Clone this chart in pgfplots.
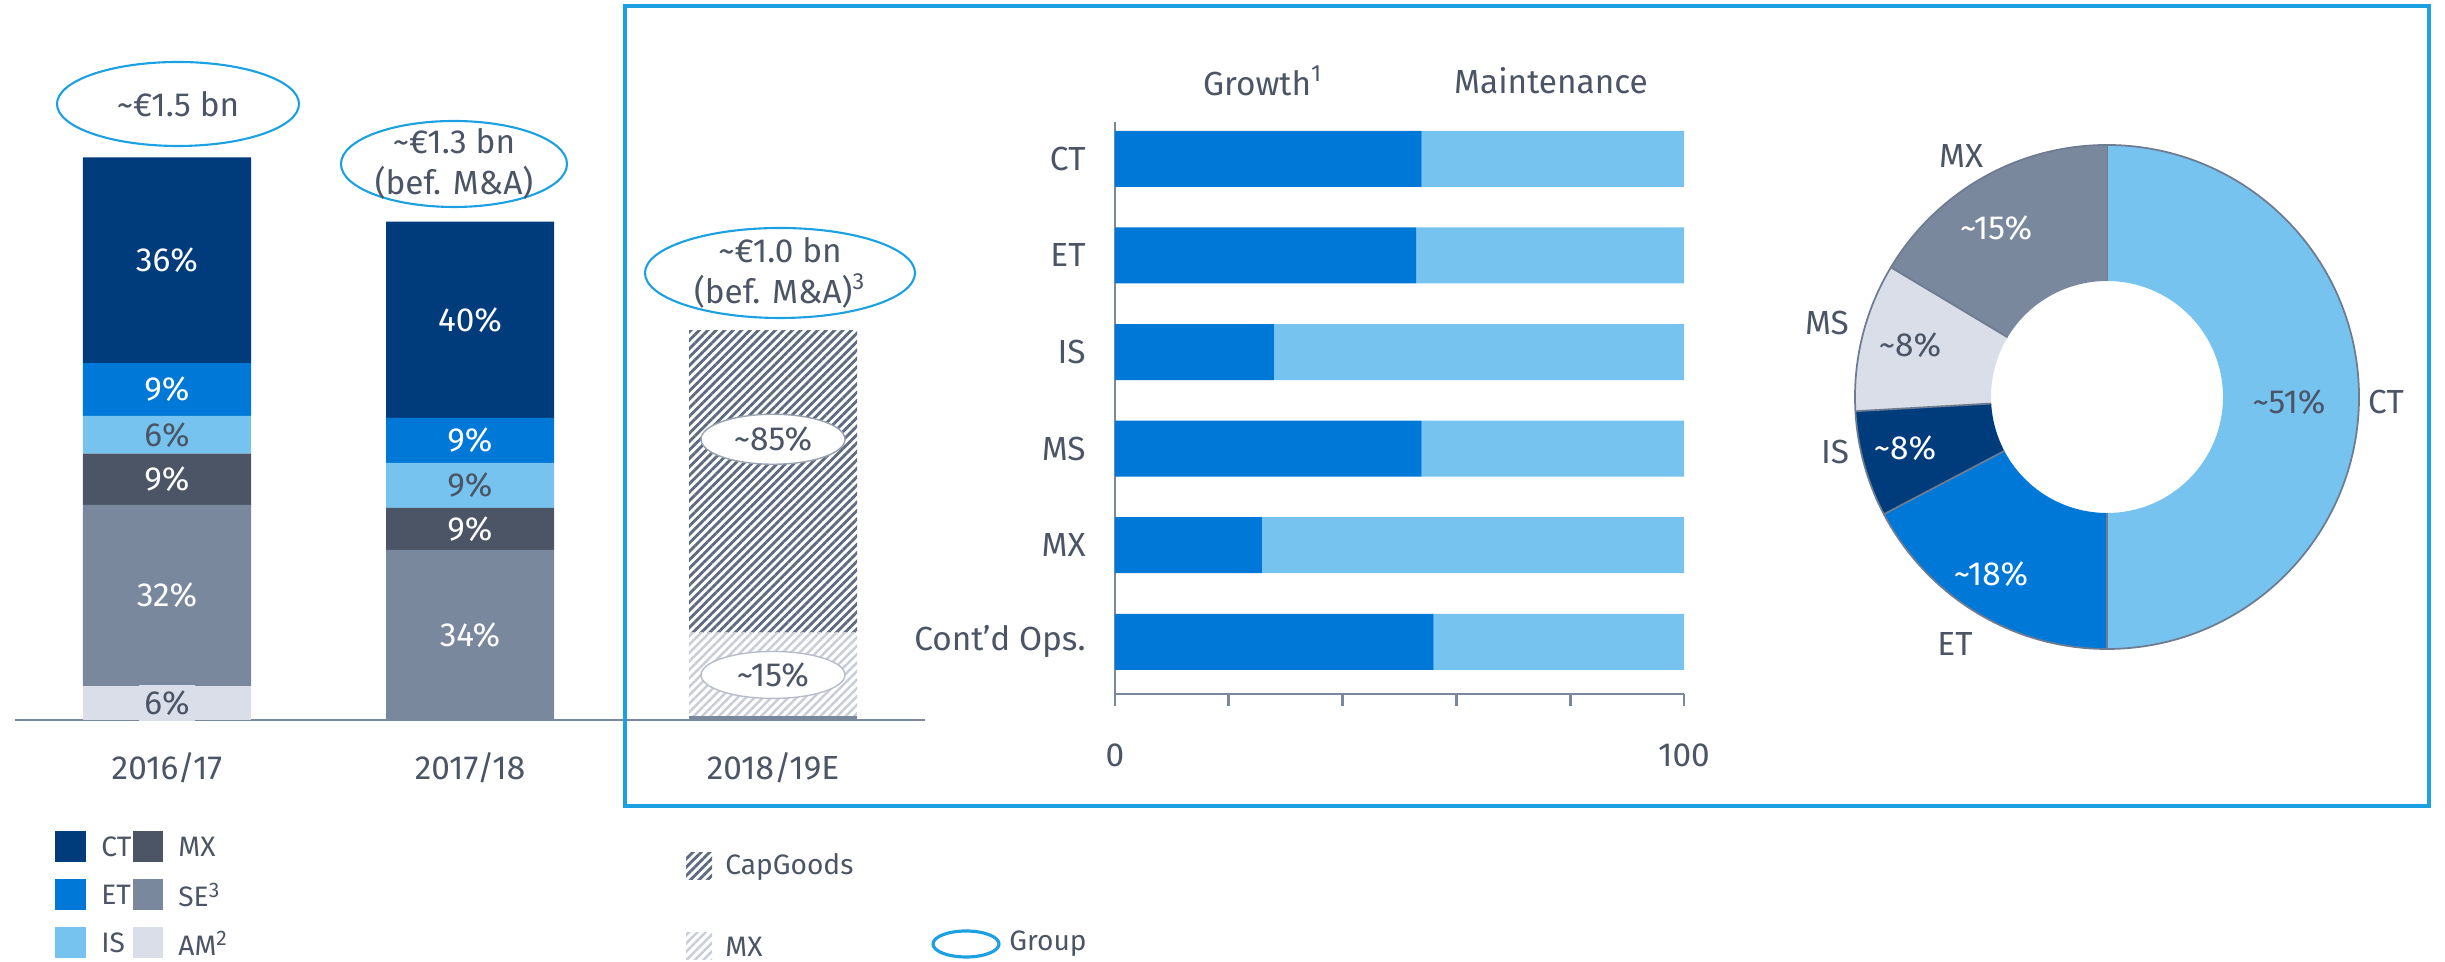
\documentclass[border=0pt]{standalone}
\usepackage{pgfplots}
\pgfplotsset{compat=1.18}
\usepackage{pgfplotstable}
\usepackage{fontspec}
\setmainfont{Fira Sans}
\usetikzlibrary{patterns.meta}

\definecolor{ct}{HTML}{003B7C}
\definecolor{et}{HTML}{0078D7}
\definecolor{is}{HTML}{75C3EE}
\definecolor{mx}{HTML}{4B5565}
\definecolor{se}{HTML}{7A889E}
\definecolor{am}{HTML}{DADEE8}
\definecolor{txt}{HTML}{4B5565}
\definecolor{frame}{HTML}{1BA1E2}
\definecolor{hatchd}{HTML}{5E6A7E}
\definecolor{hatchl}{HTML}{C8CDD8}
\definecolor{rim}{HTML}{6E7C92}

\newcommand{\lbl}{\fontsize{9.5}{11.5}\selectfont}
\newcommand{\leg}{\fontsize{8}{9.5}\selectfont}
\newcommand{\tld}{\textasciitilde}

\pgfplotsset{leftgeom/.style={
  at={(0.155cm,2.42cm)}, anchor=south west,
  scale only axis, x=3.03cm, y=3.753cm,
  xmin=-0.5, xmax=2.5, ymin=0, ymax=1.6, clip=false,
}}

% capex by segment, EUR bn (stack order bottom to top)
\pgfplotstableread{
x  base   mxh    cap    am     se     mx     is     et     ct
0  0      0      0      0.091  0.482  0.137  0.100  0.141  0.548
1  0      0      0      0      0.453  0.112  0.120  0.120  0.523
2  0.011  0.222  0.806  0      0      0      0      0      0
}\capex

% growth vs maintenance, percent
\pgfplotstableread{
y  growth  maint
5  53.9    46.1
4  52.9    47.1
3  27.9    72.1
2  53.9    46.1
1  25.8    74.2
0  56.0    44.0
}\split

% 2018/19E mix, percent (CT, ET, IS, MS, MX clockwise from top)
\pgfplotstableread{
seg share
CT  50.0
ET  17.3
IS  6.8
MS  9.5
MX  16.4
}\mix

\begin{document}
\begin{tikzpicture}[font=\lbl, text=txt]
\useasboundingbox (0,0) rectangle (24.45,9.62);

% ---- left: stacked bars ----
\begin{axis}[
  leftgeom,
  ybar stacked, bar width=1.68cm,
  axis x line=bottom, axis y line=none,
  axis line style={draw=se, line width=0.8pt, -},
  xtick={0,1,2}, xticklabels={2016/17,2017/18,2018/19E},
  major tick length=0pt,
  xticklabel style={text=txt, font=\lbl, yshift=-0.2cm},
]
\addplot[fill=se, draw=none] table[x=x, y=base] {\capex};
\addplot[draw=none, pattern={Lines[angle=45, distance=1.7pt, line width=0.7pt]}, pattern color=hatchl] table[x=x, y=mxh] {\capex};
\addplot[draw=none, pattern={Lines[angle=45, distance=1.7pt, line width=0.8pt]}, pattern color=hatchd] table[x=x, y=cap] {\capex};
\addplot[fill=am, draw=none] table[x=x, y=am] {\capex};
\addplot[fill=se, draw=none] table[x=x, y=se] {\capex};
\addplot[fill=mx, draw=none] table[x=x, y=mx] {\capex};
\addplot[fill=is, draw=none] table[x=x, y=is] {\capex};
\addplot[fill=et, draw=none] table[x=x, y=et] {\capex};
\addplot[fill=ct, draw=none] table[x=x, y=ct] {\capex};
\end{axis}

% segment labels, same geometry as the bars
\begin{axis}[leftgeom, hide axis]
\node[white] at (axis cs:0,1.225) {36\%};
\node[white] at (axis cs:0,0.8805) {9\%};
\node at (axis cs:0,0.760) {6\%};
\node[white] at (axis cs:0,0.6415) {9\%};
\node[white] at (axis cs:0,0.332) {32\%};
\node[fill=am, inner sep=1.5pt] at (axis cs:0,0.0455) {6\%};

\node[white] at (axis cs:1,1.0665) {40\%};
\node[white] at (axis cs:1,0.745) {9\%};
\node at (axis cs:1,0.625) {9\%};
\node[white] at (axis cs:1,0.509) {9\%};
\node[white] at (axis cs:1,0.2265) {34\%};

\draw[rim!70, line width=0.4pt, fill=white] (axis cs:2,0.748) ellipse [x radius=0.72cm, y radius=0.25cm];
\node at (axis cs:2,0.748) {\tld85\%};
\draw[rim!50, line width=0.4pt, fill=white] (axis cs:2,0.120) ellipse [x radius=0.72cm, y radius=0.235cm];
\node at (axis cs:2,0.120) {\tld15\%};
\end{axis}

% group totals
\draw[frame, line width=0.6pt] (1.78,8.58) ellipse [x radius=1.21, y radius=0.42];
\node at (1.78,8.58) {\tld€1.5 bn};
\draw[frame, line width=0.6pt] (4.54,7.98) ellipse [x radius=1.13, y radius=0.43];
\node[align=center, inner sep=0pt] at (4.54,7.98) {\tld€1.3 bn\\(bef. M\&A)};
\draw[frame, line width=0.6pt] (7.80,6.89) ellipse [x radius=1.35, y radius=0.45];
\node[align=center, inner sep=0pt] at (7.80,6.89) {\tld€1.0 bn\\(bef. M\&A)\textsuperscript{3}};

% frame round the 2018/19E part
\draw[frame, line width=0.9pt] (6.25,1.56) rectangle (24.29,9.56);

% ---- middle: growth vs maintenance ----
\begin{axis}[
  at={(11.15cm,2.68cm)}, anchor=south west,
  scale only axis, x=0.0569cm, y=0.966cm,
  xmin=0, xmax=100, ymin=-0.54, ymax=5.38,
  xbar stacked, bar width=0.56cm,
  axis x line=bottom, axis y line=left,
  axis line style={draw=se, line width=0.8pt, -},
  xtick={0,20,...,100}, xticklabels={0,,,,,100},
  tick align=outside, major tick length=0.12cm,
  xtick style={draw=se, line width=0.8pt},
  ytick={0,...,5}, yticklabels={Cont’d Ops.,MX,MS,IS,ET,CT},
  ytick style={draw=none},
  xticklabel style={text=txt, font=\lbl, yshift=-0.25cm},
  yticklabel style={text=txt, font=\lbl, xshift=-0.05cm},
  clip=false,
]
\addplot[fill=et, draw=none] table[x=growth, y=y] {\split};
\addplot[fill=is, draw=none] table[x=maint, y=y] {\split};
\end{axis}
\node at (12.63,8.81) {Growth\textsuperscript{1}};
\node at (15.51,8.81) {Maintenance};

% ---- right: donut ----
\begin{axis}[
  at={(21.07cm,5.65cm)}, anchor=center,
  scale only axis, x=1cm, y=1cm,
  xmin=-2.6, xmax=2.6, ymin=-2.6, ymax=2.6,
  hide axis, clip=false,
]
\pgfplotsextra{
  \gdef\acc{90}
  \foreach \i/\c in {0/is,1/et,2/ct,3/am,4/se} {
    \pgfplotstablegetelem{\i}{share}\of\mix
    \pgfmathsetmacro{\a}{\acc}
    \pgfmathsetmacro{\b}{\acc-3.6*\pgfplotsretval}
    \fill[\c] (axis cs:{2.52*cos(\a)},{2.52*sin(\a)}) arc[start angle=\a, end angle=\b, radius=2.52cm]
      -- (axis cs:{1.16*cos(\b)},{1.16*sin(\b)}) arc[start angle=\b, end angle=\a, radius=1.16cm] -- cycle;
    \draw[rim, line width=0.5pt] (axis cs:{1.16*cos(\a)},{1.16*sin(\a)}) -- (axis cs:{2.52*cos(\a)},{2.52*sin(\a)});
    \xdef\acc{\b}
  }
  \draw[rim, line width=0.5pt] (axis cs:0,0) circle [radius=2.52cm];
}
\end{axis}
\node at (19.61,8.06) {MX};
\node[white] at (19.96,7.34) {\tld15\%};
\node at (18.27,6.39) {MS};
\node at (19.10,6.17) {\tld8\%};
\node at (18.35,5.10) {IS};
\node[white] at (19.05,5.14) {\tld8\%};
\node[white] at (19.91,3.88) {\tld18\%};
\node at (19.55,3.18) {ET};
\node at (22.89,5.60) {\tld51\%};
\node at (23.86,5.60) {CT};

% ---- legends ----
\foreach \c/\t/\yy in {ct/CT/1.15, et/ET/0.67, is/IS/0.19} {
  \fill[\c] (0.55,\yy-0.155) rectangle ++(0.31,0.31);
  \node[anchor=west, font=\leg] at (0.89,\yy) {\t};
}
\foreach \c/\t/\yy in {mx/MX/1.15, se/SE\textsuperscript{3}/0.67, am/AM\textsuperscript{2}/0.19} {
  \fill[\c] (1.33,\yy-0.155) rectangle ++(0.30,0.31);
  \node[anchor=west, font=\leg] at (1.66,\yy) {\t};
}
\fill[pattern={Lines[angle=45, distance=1.7pt, line width=0.8pt]}, pattern color=hatchd] (6.86,0.82) rectangle (7.12,1.09);
\node[anchor=west, font=\leg] at (7.13,0.95) {CapGoods};
\fill[pattern={Lines[angle=45, distance=1.7pt, line width=0.7pt]}, pattern color=hatchl] (6.86,0.02) rectangle (7.12,0.29);
\node[anchor=west, font=\leg] at (7.13,0.15) {MX};
\draw[frame, line width=0.9pt] (9.66,0.18) ellipse [x radius=0.33, y radius=0.13];
\node[anchor=west, font=\leg] at (9.97,0.18) {Group};
\end{tikzpicture}
\end{document}
